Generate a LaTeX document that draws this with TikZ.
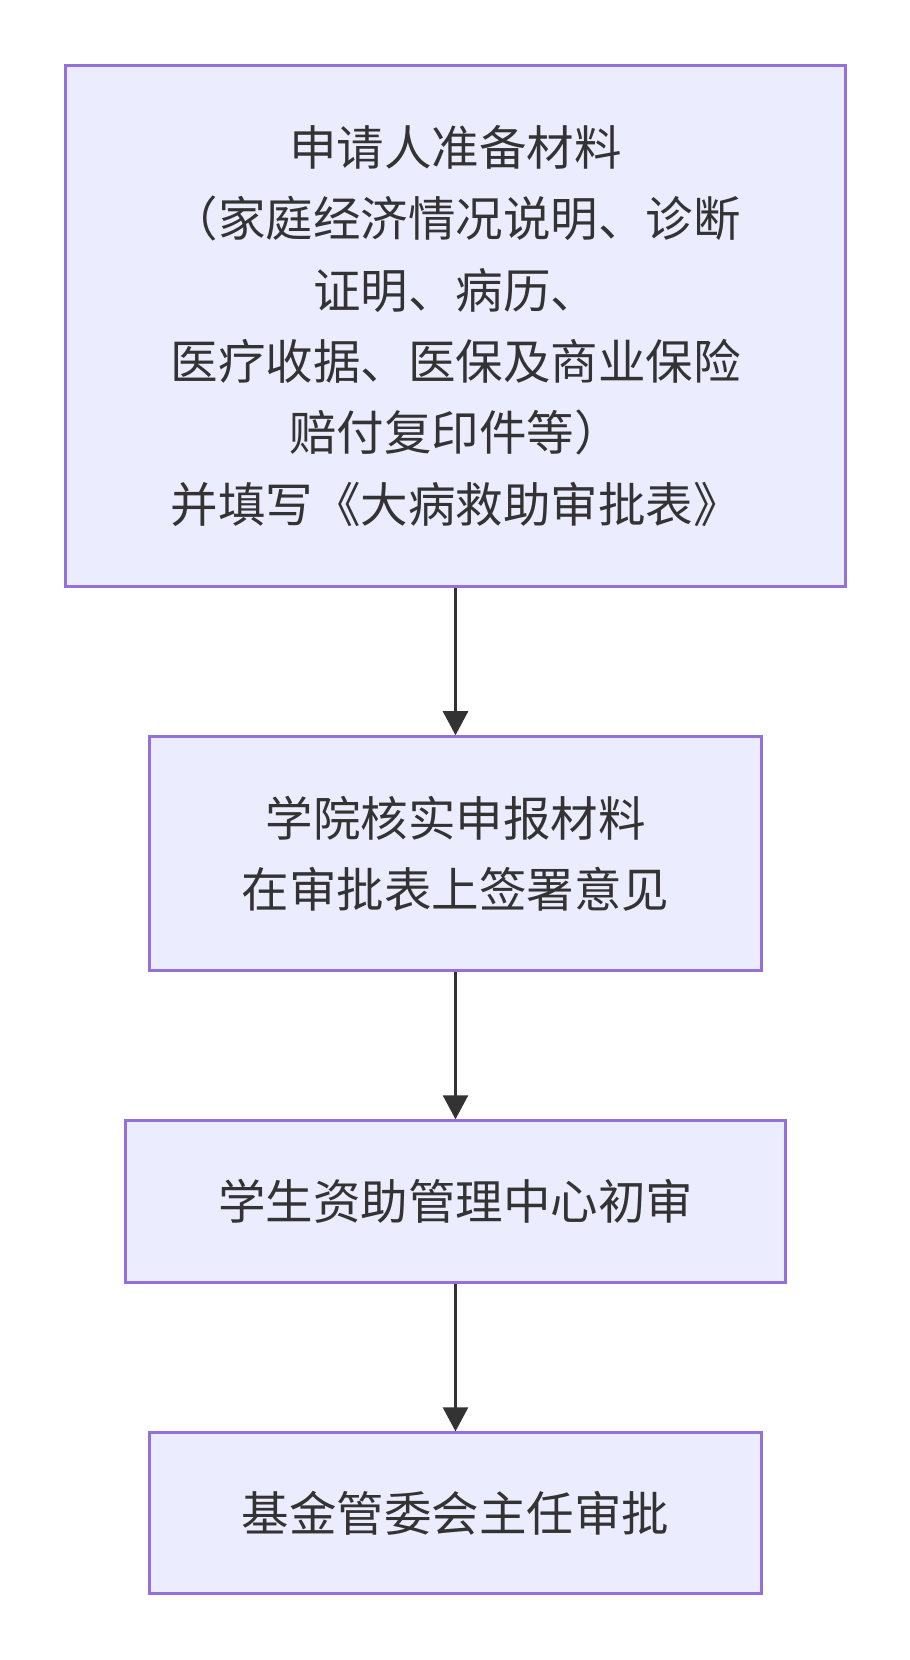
\documentclass[tikz,border=0pt]{standalone}
\usepackage{fontspec}
\setmainfont{Noto Sans CJK SC}
\usepackage{tikz}
\usetikzlibrary{arrows.meta}
\definecolor{boxfill}{HTML}{ECECFF}
\definecolor{boxline}{HTML}{9370DB}
\definecolor{ink}{HTML}{333333}
\tikzset{
    normal/.style={draw=boxline, line width=2.6pt},
    proc/.style={style=normal, fill=boxfill, rectangle, align=center, text=ink,
        font=\fontsize{47.5}{71.3}\selectfont, inner sep=0pt}, % process boxes
    e/.style={draw=ink, line width=2.6pt, -{Triangle[length=24pt, width=25pt]}} % flow edges
}

\begin{document}
\begin{tikzpicture}[x=1pt, y=-1pt]
        \useasboundingbox (0, 0) rectangle (910, 1660);
        \node[proc, minimum width=779.8pt, minimum height=520.6pt] (apply) at (455.5, 325.9)
        {申请人准备材料\\（家庭经济情况说明、诊断\\证明、病历、\\医疗收据、医保及商业保险\\赔付复印件等）\\并填写《大病救助审批表》};
        \node[proc, minimum width=611.6pt, minimum height=233.8pt] (college) at (455.5, 853.4)
        {学院核实申报材料\\在审批表上签署意见};
        \node[proc, minimum width=660.2pt, minimum height=161.9pt] (center) at (455.5, 1201.5)
        {学生资助管理中心初审};
        \node[proc, minimum width=611.6pt, minimum height=160.9pt] (board) at (455.5, 1513.1)
        {基金管委会主任审批};

        \draw[e] (apply) -- (college);
        \draw[e] (college) -- (center);
        \draw[e] (center) -- (board);
      \end{tikzpicture}
\end{document}
